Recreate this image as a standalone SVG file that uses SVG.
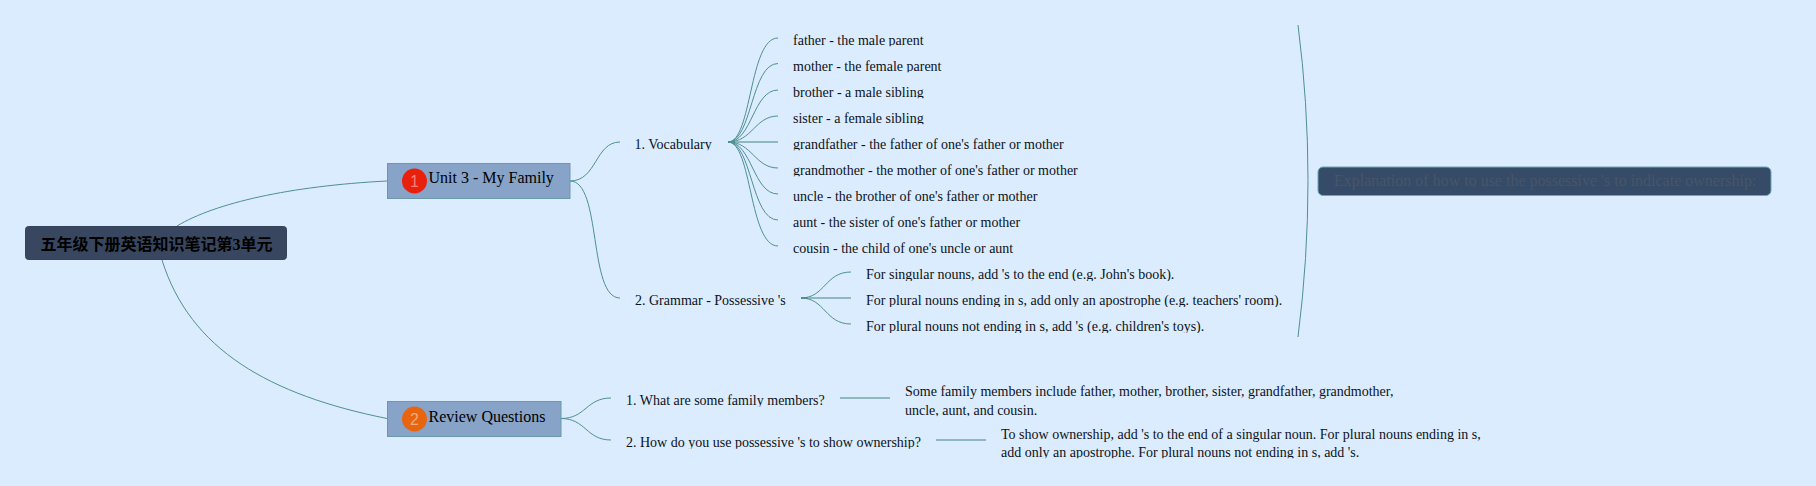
<svg xmlns="http://www.w3.org/2000/svg" width="1816" height="486" viewBox="0 0 1816 486">
<defs>
<clipPath id="cut" clipPathUnits="objectBoundingBox"><rect x="-0.02" y="0" width="1.04" height="0.91"/></clipPath>
</defs>
<style>
text{font-family:"Liberation Serif","Noto Sans CJK SC",serif;fill:#0b1220;font-size:14px}
.t{clip-path:url(#cut)}
.c{fill:none;stroke:#4f8f94;stroke-width:1}
.h{fill:none;stroke:#8fb8bf;stroke-width:2}
.s{fill:none;stroke:#4f8f94;stroke-width:2}
.main{fill:#87a3c8;stroke:#6a9aa8;stroke-width:1}
.m{font-size:16px;fill:#000}
.d{font-family:"Liberation Sans",sans-serif;font-size:16px;text-anchor:middle;fill:#fff;fill-opacity:.45}
</style>
<rect width="1816" height="486" fill="#dbecfe"/>
<g id="connectors">
<path class="c" d="M177 226C215 203 290 186 387 181"/>
<path class="c" d="M162 260C190 350 270 395 387 418.500"/>
<path class="c" d="M570 181C597 181 595 142 620 142"/>
<path class="c" d="M570 181C602 181 588 298 620 298"/>
<path class="c" d="M728 142C752 142 749 38 778 38"/>
<path class="c" d="M728 142C752 142 751 63.500 778 63.500"/>
<path class="c" d="M728 142C752 142 753 90 778 90"/>
<path class="c" d="M728 142C752 142 755 116 778 116"/>
<path class="h" d="M728 142H778"/>
<path class="c" d="M728 142C752 142 755 168 778 168"/>
<path class="c" d="M728 142C752 142 753 194 778 194"/>
<path class="c" d="M728 142C752 142 751 220 778 220"/>
<path class="c" d="M728 142C752 142 749 246 778 246"/>
<path class="s" d="M728 142H735"/>
<path class="c" d="M801 298C825 298 825 272 851 272"/>
<path class="h" d="M801 298H851"/>
<path class="c" d="M801 298C825 298 825 324 851 324"/>
<path class="s" d="M801 298H808"/>
<path class="c" d="M561 418.500C586 418.500 586 398 611 398"/>
<path class="c" d="M561 418.500C586 418.500 586 440 611 440"/>
<path class="h" d="M840 398H890"/>
<path class="h" d="M936 440H986"/>
<path class="c" d="M1298 25Q1318 180 1298 337"/>
</g>
<g id="root">
<rect x="25.500" y="226.500" width="261" height="33" rx="3" fill="#38465f" stroke="#34425a"/>
<text x="40.500" y="250" style="font-size:16px;font-weight:700;fill:#000">五年级下册英语知识笔记第3单元</text>
</g>
<g id="unit3">
<rect class="main" x="387.500" y="163.500" width="182.500" height="35"/>
<circle cx="414.500" cy="181" r="12.500" fill="#e8200c"/>
<text class="d" x="414.500" y="187">1</text>
<text class="m" x="428.500" y="183">Unit 3 - My Family</text>
</g>
<g id="review">
<rect class="main" x="387.500" y="401.500" width="173.500" height="35"/>
<circle cx="414.500" cy="419" r="12.500" fill="#e8650f"/>
<text class="d" x="414.500" y="425">2</text>
<text class="m" x="428.500" y="421.500">Review Questions</text>
</g>
<g id="vocabulary"><text class="t" x="634.500" y="148.500">1. Vocabulary</text></g>
<g id="v1"><text class="t" x="793" y="44.500">father - the male parent</text></g>
<g id="v2"><text class="t" x="793" y="70.500">mother - the female parent</text></g>
<g id="v3"><text class="t" x="793" y="96.500">brother - a male sibling</text></g>
<g id="v4"><text class="t" x="793" y="122.500">sister - a female sibling</text></g>
<g id="v5"><text class="t" x="793" y="148.500">grandfather - the father of one's father or mother</text></g>
<g id="v6"><text class="t" x="793" y="174.500">grandmother - the mother of one's father or mother</text></g>
<g id="v7"><text class="t" x="793" y="200.500">uncle - the brother of one's father or mother</text></g>
<g id="v8"><text class="t" x="793" y="226.500">aunt - the sister of one's father or mother</text></g>
<g id="v9"><text class="t" x="793" y="252.500">cousin - the child of one's uncle or aunt</text></g>
<g id="grammar"><text class="t" x="635" y="304.500">2. Grammar - Possessive 's</text></g>
<g id="g1"><text class="t" x="866" y="278.500">For singular nouns, add 's to the end (e.g. John's book).</text></g>
<g id="g2"><text class="t" x="866" y="304.500">For plural nouns ending in s, add only an apostrophe (e.g. teachers' room).</text></g>
<g id="g3"><text class="t" x="866" y="330.500">For plural nouns not ending in s, add 's (e.g. children's toys).</text></g>
<g id="summary">
<rect x="1318" y="167" width="453" height="28.500" rx="5" fill="#364b68" stroke="#6fa8b0"/>
<text x="1334" y="186" style="font-size:16px;fill:#47566a">Explanation of how to use the possessive 's to indicate ownership:</text>
</g>
<g id="q1"><text class="t" x="626" y="405">1. What are some family members?</text></g>
<g id="a1">
<text x="905" y="396">Some family members include father, mother, brother, sister, grandfather, grandmother,</text>
<text class="t" x="905" y="414.500">uncle, aunt, and cousin.</text>
</g>
<g id="q2"><text class="t" x="626" y="447">2. How do you use possessive 's to show ownership?</text></g>
<g id="a2">
<text x="1001" y="438.500">To show ownership, add 's to the end of a singular noun. For plural nouns ending in s,</text>
<text class="t" x="1001" y="456.500">add only an apostrophe. For plural nouns not ending in s, add 's.</text>
</g>
</svg>
